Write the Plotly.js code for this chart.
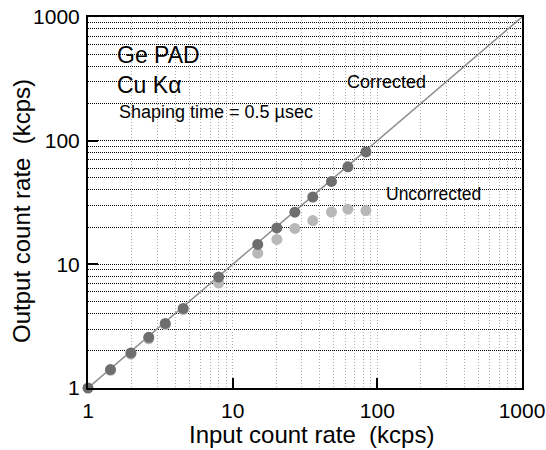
<!DOCTYPE html>
<html>
<head>
<meta charset="utf-8">
<script src="https://cdn.plot.ly/plotly-3.0.1.min.js"></script>
<style>
html, body { margin: 0; padding: 0; background: #fff; }
#chart { width: 546px; height: 450px; }
</style>
</head>
<body>
<div id="chart"></div>
<script>
// Data
const inputRate   = [1, 1.43, 1.98, 2.63, 3.42, 4.55, 8.0, 14.9, 20.2, 26.9, 35.8, 48.2, 62.6, 83.4];
const corrected   = [1, 1.41, 1.92, 2.57, 3.33, 4.4, 7.9, 14.5, 19.7, 26.4, 35.0, 46.8, 61.5, 81.0];
const uncorrected = [0.98, 1.39, 1.88, 2.5, 3.25, 4.3, 7.05, 12.3, 15.9, 19.5, 22.6, 26.5, 27.9, 27.2];
const idealX = [1, 1000];
const idealY = [1, 1000];

const majorTicks = [1, 10, 100, 1000];
const majorText = ["1", "10", "100", "1000"];
const minorTicks = [2,3,4,5,6,7,8,9,20,30,40,50,60,70,80,90,200,300,400,500,600,700,800,900];

const FONT = "Liberation Sans, Arial, Helvetica, sans-serif";

const traces = [
  { x: idealX, y: idealY, mode: "lines", line: { color: "#8e8e8e", width: 1.5 }, hoverinfo: "skip", showlegend: false },
  { x: inputRate, y: uncorrected, mode: "markers", marker: { color: "#b8b8b8", size: 11 }, cliponaxis: false, showlegend: false },
  { x: inputRate, y: corrected, mode: "markers", marker: { color: "#6e6e6e", size: 11 }, cliponaxis: false, showlegend: false }
];

function axis(gridColor, gridDash) {
  return {
    type: "log",
    range: [0, 3],
    tickvals: majorTicks,
    ticktext: majorText,
    ticks: "inside",
    ticklen: 10,
    tickwidth: 2,
    tickcolor: "#000",
    showline: true,
    mirror: true,
    linecolor: "#000",
    linewidth: 2,
    showgrid: true,
    gridcolor: gridColor,
    griddash: gridDash,
    gridwidth: 1,
    zeroline: false,
    tickfont: { family: FONT, size: 21, color: "#000" },
    minor: { tickvals: minorTicks, showgrid: true, gridcolor: gridColor, griddash: gridDash, gridwidth: 1, ticks: "" }
  };
}

const xa = axis("#b0b0b0", "1px,2px");
xa.ticklabelstandoff = 3;
const ya = axis("#000000", "1px,1px");
ya.ticklabelstandoff = 2;

const ann = (text, x, y, size, extra) => Object.assign({
  text: text, xref: "paper", yref: "paper", x: x, y: y,
  xanchor: "left", yanchor: "middle", showarrow: false,
  font: { family: FONT, size: size, color: "#000" }
}, extra || {});

const layout = {
  width: 546, height: 450,
  margin: { l: 88, r: 24, t: 17, b: 62 },
  paper_bgcolor: "#fff", plot_bgcolor: "#fff",
  xaxis: xa, yaxis: ya,
  annotations: [
    ann("Ge PAD", 0.063, 0.898, 23),
    ann("Cu K\u03b1", 0.063, 0.818, 23),
    ann("Shaping time = 0.5 \u00b5sec", 0.066, 0.745, 18),
    ann("Corrected", 0.592, 0.826, 18),
    ann("Uncorrected", 0.682, 0.522, 17.5),
    ann("Input count rate  (kcps)", 0.516, -0.124, 24, { xanchor: "center", yanchor: "middle" }),
    ann("Output count rate  (kcps)", -0.153, 0.476, 24, { xanchor: "center", yanchor: "middle", textangle: -90 })
  ]
};

Plotly.newPlot("chart", traces, layout, { displayModeBar: false, staticPlot: true });
</script>
</body>
</html>
